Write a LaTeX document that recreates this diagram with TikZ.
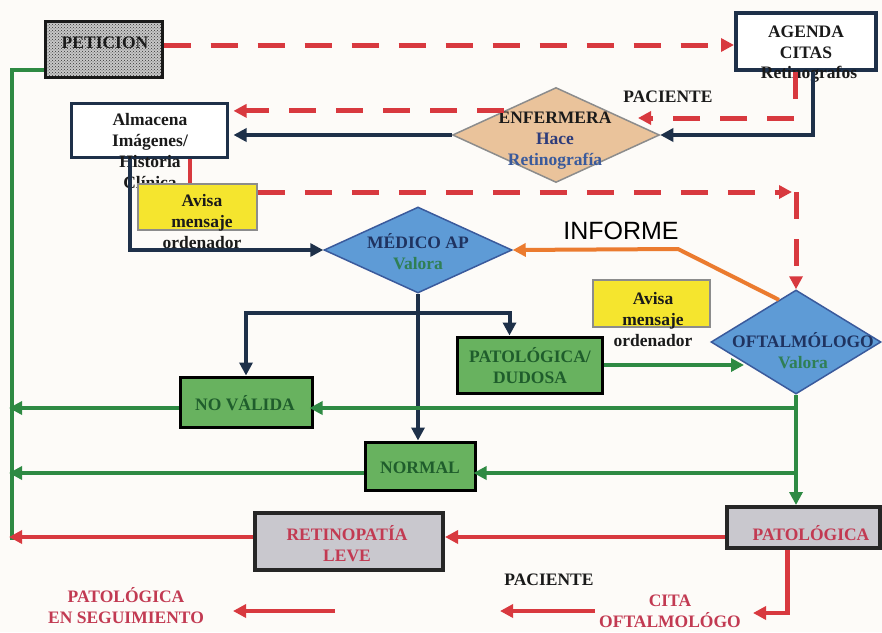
\documentclass[tikz,border=0pt]{standalone}
\usepackage{fontspec}
\setmainfont{Liberation Serif}
\setsansfont{Liberation Sans}
\usetikzlibrary{shapes.geometric,arrows.meta,patterns,calc}
\definecolor{cbg}{HTML}{FDFBF8}
\definecolor{cred}{HTML}{D8393F}
\definecolor{cnavy}{HTML}{1E3049}
\definecolor{cgrn}{HTML}{2E8A43}
\definecolor{cboxg}{HTML}{68B25F}
\definecolor{cblue}{HTML}{5E9BD6}
\definecolor{ctan}{HTML}{EAC39B}
\definecolor{cgray}{HTML}{C9C8CE}
\definecolor{cyel}{HTML}{F5E52E}
\definecolor{corange}{HTML}{EB7B2F}
\definecolor{ccrim}{HTML}{C23A52}
\definecolor{ctxtnavy}{HTML}{1F3360}
\definecolor{chace}{HTML}{2E3C7A}
\definecolor{cretino}{HTML}{3A5A9C}
\definecolor{cvalora}{HTML}{2F7F55}
\definecolor{cdkgreen}{HTML}{1F5D2C}
\definecolor{ctxt}{HTML}{1A1A1A}
\begin{document}
\begin{tikzpicture}[x=1pt,y=-1pt,
  txt/.style={font=\fontsize{17.5}{21}\selectfont\bfseries, align=center, inner sep=0pt, text=ctxt},
  plainbox/.style={rectangle, inner sep=0pt},
  greenbox/.style={plainbox, draw=black, line width=3pt, fill=cboxg},
  graybox/.style={plainbox, draw=black!85, line width=4pt, fill=cgray},
  yelbox/.style={plainbox, draw=black!45, line width=1.5pt, fill=cyel},
  dia/.style={diamond, inner sep=0pt},
  tip/.style={-{Triangle[length=13pt,width=13pt]}},
  navline/.style={draw=cnavy, line width=4pt},
  navarr/.style={navline, tip},
  grnline/.style={draw=cgrn, line width=4pt},
  grnarr/.style={grnline, tip},
  redline/.style={draw=cred, line width=4.5pt},
  redarr/.style={redline, tip},
  reddash/.style={draw=cred, line width=5pt, dash pattern=on 27pt off 20pt, tip},
  orgarr/.style={draw=corange, line width=4pt, tip}
]
\fill[cbg] (0,0) rectangle (882,632);
\useasboundingbox (0,0) rectangle (882,632);

% ---------- boxes ----------
\node[plainbox, draw=black!90, line width=3pt, minimum width=117pt, minimum height=56pt,
      preaction={fill=black!22}, pattern=crosshatch dots, pattern color=black!80] (pet) at (103.5,49) {};
\node[txt] (pett) at (105,43) {PETICION};

\node[plainbox, draw=cnavy, line width=4pt, fill=white, minimum width=140pt, minimum height=57pt] (agenda) at (806,41.5) {};
\node[txt] (agendat) at (806,42) {AGENDA\\CITAS};
\node[txt] (retgr) at (809,74) {Retinografos};

\node[plainbox, draw=cnavy, line width=3pt, fill=white, minimum width=156pt, minimum height=54pt] (alm) at (149,130) {};
\node[txt] (almt) at (150,151.5) {Almacena\\Imágenes/\\Historia\\Clínica};

\node[yelbox, minimum width=119pt, minimum height=46pt] (av1) at (197.5,207) {};
\node[txt] (av1t) at (202,222) {Avisa\\mensaje\\ordenador};

\node[dia, draw=black!45, line width=1.5pt, fill=ctan, minimum width=207pt, minimum height=95pt] (enf) at (556,135) {};
\node[txt] (enft) at (555,140.5) {ENFERMERA\\\textcolor{chace}{Hace}\\\textcolor{cretino}{Retinografía}};

\node[dia, draw=cretino, line width=1.5pt, fill=cblue, minimum width=188pt, minimum height=86pt] (med) at (418,250) {};
\node[txt] (medt) at (418,252) {\textcolor{ctxtnavy}{MÉDICO AP}\\\textcolor{cvalora}{Valora}};

\node[yelbox, minimum width=117pt, minimum height=47pt] (av2) at (651.5,303.5) {};
\node[txt] (av2t) at (653,319.5) {Avisa\\mensaje\\ordenador};

\node[dia, draw=cretino, line width=1.5pt, fill=cblue, minimum width=170pt, minimum height=104pt] (oft) at (796,342) {};
\node[txt] (oftt) at (803,351) {\textcolor{ctxtnavy}{OFTALMÓLOGO}\\\textcolor{cvalora}{Valora}};

\node[greenbox, minimum width=145pt, minimum height=56pt] (pd) at (529.5,365) {};
\node[txt, text=cdkgreen] (pdt) at (530,366) {PATOLÓGICA/\\DUDOSA};

\node[greenbox, minimum width=132pt, minimum height=50pt] (nv) at (246,402) {};
\node[txt, text=cdkgreen] (nvt) at (245,403) {NO VÁLIDA};

\node[greenbox, minimum width=110pt, minimum height=48pt] (norm) at (420,466) {};
\node[txt, text=cdkgreen] (normt) at (420,468) {NORMAL};

\node[graybox, minimum width=188pt, minimum height=57pt] (ret) at (349,541.5) {};
\node[txt, text=ccrim] (rett) at (347,544) {RETINOPATÍA\\LEVE};

\node[graybox, minimum width=153pt, minimum height=41pt] (pat) at (803.5,527.5) {};
\node[txt, text=ccrim] (patt) at (811,533) {PATOLÓGICA};

% ---------- free texts ----------
\node[txt] (pac1) at (668,97) {PACIENTE};
\node[txt] (pac2) at (549,580) {PACIENTE};
\node[txt, text=ccrim] (cita) at (670,611) {CITA\\OFTALMOLÓGO};
\node[txt, text=ccrim] (seg) at (126,606) {PATOLÓGICA\\EN SEGUIMIENTO};
\node[font=\sffamily\fontsize{25}{28}\selectfont, inner sep=0pt, text=black] (inf) at (621,231) {INFORME};

% ---------- coordinates ----------
\coordinate (leftbus) at (12,540);
\coordinate (enfr) at (638,118);
\coordinate (rc1) at (792,192);
\coordinate (rc2) at (796,192);
\coordinate (oftstart) at ($(oft.north)!0.2!(oft.west)$);
\coordinate (infbend) at (678,249);
\coordinate (br) at (418,313);
\coordinate (oftl) at (744,365);
\coordinate (gb1) at (796,408);
\coordinate (gb2) at (796,473);
\coordinate (redy) at (0,537);
\coordinate (citaend) at (753,613);
\coordinate (fa1s) at (595,611);
\coordinate (fa1e) at (500,611);
\coordinate (fa2s) at (335,611);
\coordinate (fa2e) at (233,611);

% ---------- connectors ----------
\draw[reddash] ([yshift=4pt]pet.east) -- ([yshift=4pt]pet.east -| agenda.west);
\draw[grnline] ([yshift=-21pt]pet.west) -| (leftbus);

\draw[reddash] ([xshift=-11pt]agenda.south) |- (enfr);
\draw[navarr] ([xshift=7pt]agenda.south) |- (enf.east);

\draw[reddash, shorten >=5pt] (enf.north west) -- (enf.north west -| alm.east);
\draw[navarr, shorten >=5pt] (enf.west) -- (enf.west -| alm.east);

\draw[redline] ([xshift=41pt]alm.south) -- ([xshift=41pt]alm.south |- av1.north);
\draw[navarr] ([xshift=-19pt]alm.south) |- (med.west);

\draw[reddash] ([yshift=15pt]av1.east) -- (rc1);
\draw[reddash] (rc2) -- (oft.north);

\draw[orgarr, line join=round] (oftstart) -- (infbend) -- (med.east);

\draw[navarr] (med.south) -- (med.south |- norm.north);
\draw[navarr] (br) -| (nv.north);
\draw[navarr] (br) -| ([xshift=-20pt]pd.north);

\draw[grnarr] (pd.east) -- (oftl);
\draw[grnarr] (oft.south) -- (oft.south |- pat.north);
\draw[grnarr, shorten >=-4pt] (gb1) -- (gb1 -| nv.east);
\draw[grnarr, shorten >=-3pt] (gb1 -| nv.west) -- (gb1 -| leftbus);
\draw[grnarr, shorten >=-3pt] (gb2) -- (gb2 -| norm.east);
\draw[grnarr, shorten >=-3pt] (gb2 -| norm.west) -- (gb2 -| leftbus);

\draw[redarr] (redy -| pat.west) -- (redy -| ret.east);
\draw[redarr, shorten >=-3pt] (redy -| ret.west) -- (redy -| leftbus);
\draw[redarr] ([xshift=-16pt]pat.south) |- (citaend);
\draw[redarr] (fa1s) -- (fa1e);
\draw[redarr] (fa2s) -- (fa2e);
\end{tikzpicture}
\end{document}
